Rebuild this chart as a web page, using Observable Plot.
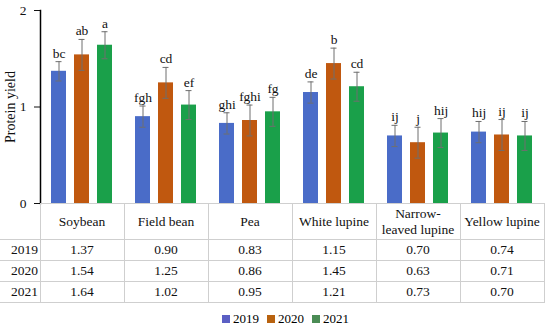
<!DOCTYPE html>
<html>
<head>
<meta charset="utf-8">
<script src="https://cdn.jsdelivr.net/npm/d3@7"></script>
<script src="https://cdn.jsdelivr.net/npm/@observablehq/plot@0.6"></script>
<style>
  body { margin: 0; background: #fff; font-family: "Liberation Serif", "DejaVu Serif", serif; }
  #chart svg { display: block; }
  #chart svg [aria-label="y-axis label"] { font-size: 14px; }
  #table { margin-top: -8px; position: relative; }
  table { border-collapse: collapse; table-layout: fixed; width: 544px; font-size: 13.5px; color: #111; }
  td, th { border: 1px solid #cfcfcf; text-align: center; vertical-align: middle; padding: 0; font-weight: normal; line-height: 16px; }
  th { height: 35px; }
  td { height: 20px; }
  td.lab { text-align: left; padding-left: 11px; border-left: none; }
  th.corner { border-left: none; border-top: none; }
  #legend { position: relative; height: 22px; font-size: 13px; }
  .item { position: absolute; top: 8px; display: flex; align-items: center; }
  .sw { width: 8px; height: 8px; margin-right: 3px; }
</style>
</head>
<body>
<div id="chart"></div>
<div id="table"></div>
<div id="legend"></div>
<script>
const categories = ["Soybean", "Field bean", "Pea", "White lupine", "Narrow-leaved lupine", "Yellow lupine"];
const headerLabels = ["Soybean", "Field bean", "Pea", "White lupine", "Narrow-<br>leaved lupine", "Yellow lupine"];
const years = ["2019", "2020", "2021"];
const values2019 = [1.37, 0.90, 0.83, 1.15, 0.70, 0.74];
const values2020 = [1.54, 1.25, 0.86, 1.45, 0.63, 0.71];
const values2021 = [1.64, 1.02, 0.95, 1.21, 0.73, 0.70];
const err2019 = [0.10, 0.11, 0.11, 0.11, 0.11, 0.11];
const err2020 = [0.16, 0.16, 0.16, 0.16, 0.16, 0.16];
const err2021 = [0.14, 0.15, 0.15, 0.15, 0.15, 0.15];
const letters2019 = ["bc", "fgh", "ghi", "de", "ij", "hij"];
const letters2020 = ["ab", "cd", "fghi", "b", "j", "ij"];
const letters2021 = ["a", "ef", "fg", "cd", "hij", "ij"];
const barColors = ["#4a6cc8", "#c0580f", "#1aa04a"];
const legendColors = ["#5b5fc4", "#b8620f", "#4b8c55"];

const series = [
  {year: "2019", values: values2019, errs: err2019, letters: letters2019},
  {year: "2020", values: values2020, errs: err2020, letters: letters2020},
  {year: "2021", values: values2021, errs: err2021, letters: letters2021}
];
const data = [];
categories.forEach((c, i) => series.forEach(s => data.push({
  cat: c, year: s.year, value: s.values[i], err: s.errs[i], letter: s.letters[i]
})));

const chart = Plot.plot({
  width: 550,
  height: 211,
  marginLeft: 40,
  marginRight: 6,
  marginTop: 10,
  marginBottom: 8,
  style: {fontFamily: "'Liberation Serif', 'DejaVu Serif', serif", fontSize: "13.5px", color: "#111"},
  fx: {domain: categories, padding: 0, axis: null},
  x: {domain: years, paddingInner: 0.33, paddingOuter: 0.49, axis: null},
  y: {domain: [0, 2]},
  color: {domain: years, range: barColors},
  marks: [
    Plot.axisY({ticks: [0, 1, 2], tickFormat: d => String(d), tickSize: 6, tickPadding: 8,
      label: "Protein yield", labelAnchor: "center", labelArrow: "none", labelOffset: 35, fontSize: 13.5}),
    Plot.frame({anchor: "left", stroke: "#000", strokeWidth: 1.5, facetAnchor: "left"}),
    Plot.barY(data, {fx: "cat", x: "year", y: "value", fill: "year"}),
    Plot.ruleX(data, {fx: "cat", x: "year", y1: d => d.value - d.err, y2: d => d.value + d.err, stroke: "#6f6f6f", strokeWidth: 1}),
    Plot.tickY(data, {fx: "cat", x: "year", y: d => d.value - d.err, stroke: "#6f6f6f", insetLeft: 4.5, insetRight: 4.5}),
    Plot.tickY(data, {fx: "cat", x: "year", y: d => d.value + d.err, stroke: "#6f6f6f", insetLeft: 4.5, insetRight: 4.5}),
    Plot.text(data, {fx: "cat", x: "year", y: d => d.value + d.err, text: "letter", dy: -4, lineAnchor: "bottom", fontSize: 13.5, fill: "#111"})
  ]
});
document.getElementById("chart").append(chart);

// table
let html = '<table><colgroup><col style="width:40px">' + categories.map(() => '<col style="width:84px">').join("") + '</colgroup>';
html += '<tr><th class="corner"></th>' + headerLabels.map(h => `<th>${h}</th>`).join("") + '</tr>';
series.forEach(s => {
  html += `<tr><td class="lab">${s.year}</td>` + s.values.map(v => `<td>${v.toFixed(2)}</td>`).join("") + '</tr>';
});
html += '</table>';
document.getElementById("table").innerHTML = html;

// legend
const legendX = [222, 267, 312];
document.getElementById("legend").innerHTML = years.map((y, i) =>
  `<div class="item" style="left:${legendX[i]}px"><div class="sw" style="background:${legendColors[i]}"></div>${y}</div>`).join("");
</script>
</body>
</html>
